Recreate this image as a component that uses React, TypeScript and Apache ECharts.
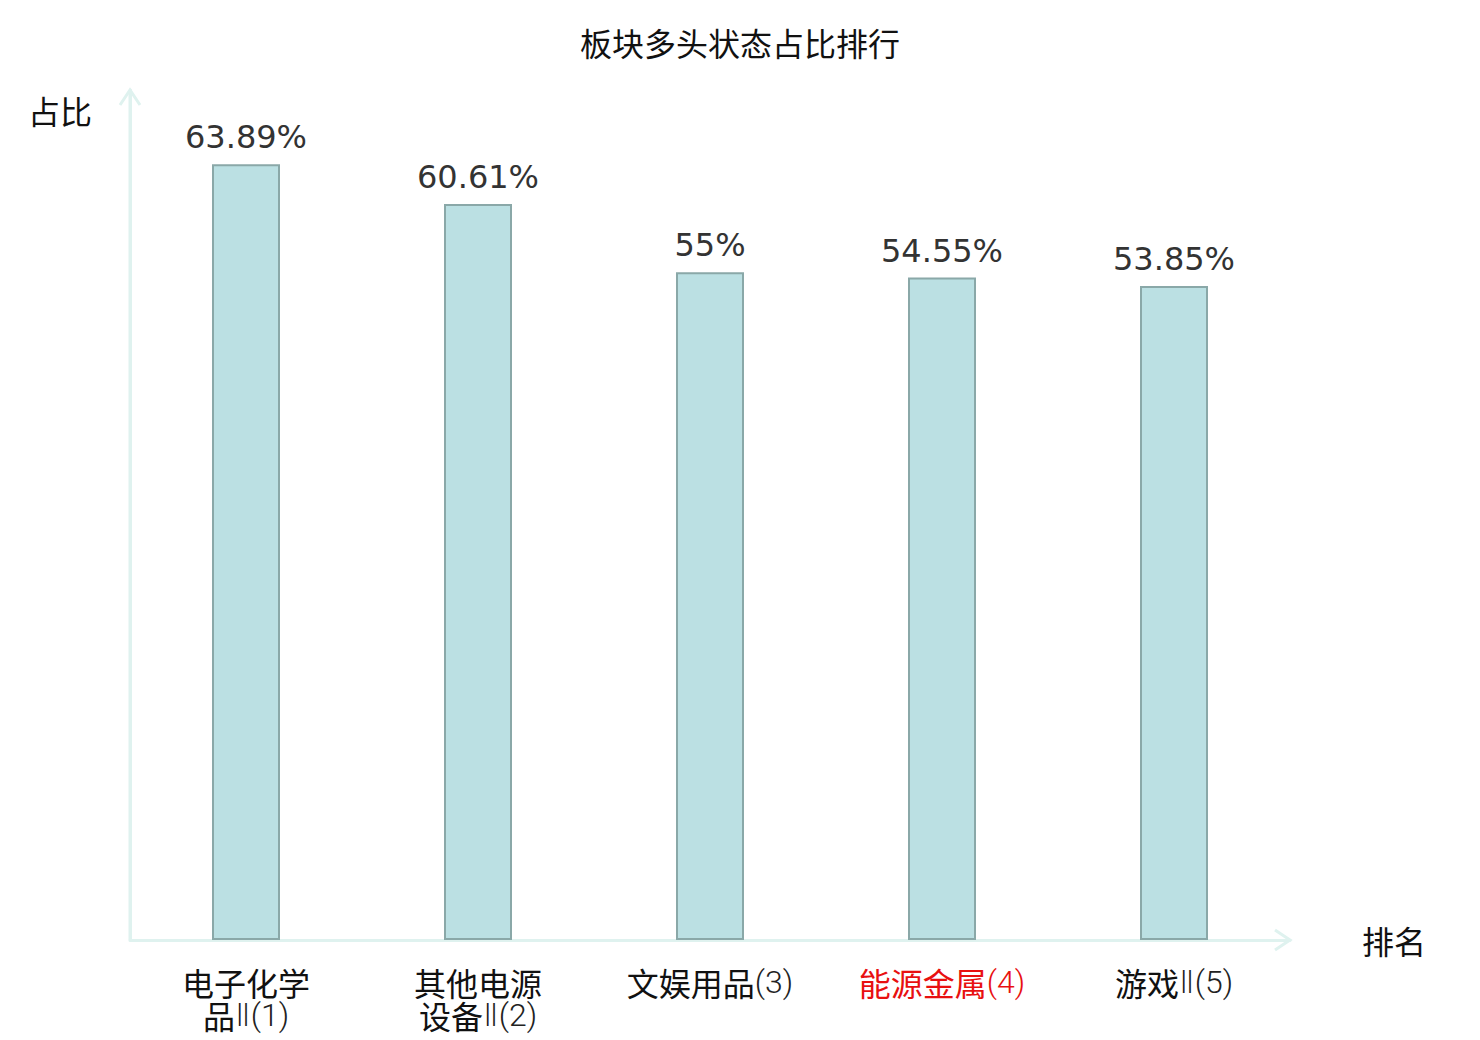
import React, { useEffect, useRef } from "react";
import * as echarts from "echarts";

const categories = ["电子化学品Ⅱ(1)", "其他电源设备Ⅱ(2)", "文娱用品(3)", "能源金属(4)", "游戏Ⅱ(5)"];
const values = [63.89, 60.61, 55, 54.55, 53.85];
const highlightIndex = 3;
const titleText = "板块多头状态占比排行";
const yName = "占比";
const xName = "排名";

const GRID = { left: 130, right: 190, top: 90, bottom: 100 };
const W = 1480;
const H = 1040;
const AXIS_COLOR = "#dff2ef";
const CJK = "Noto Sans CJK SC";
const LIGHT = "Roboto, DejaVu Sans, Noto Sans CJK SC";
const FS = 32;

function splitLabel(text: string, hl: boolean) {
  const c = hl ? "rc" : "c";
  const l = hl ? "rl" : "l";
  const fmt = (s: string) => {
    const m = s.match(/^([^Ⅱ(]*)(.*)$/);
    const a = m ? m[1] : s;
    const b = m ? m[2] : "";
    return (a ? `{${c}|${a}}` : "") + (b ? `{${l}|${b}}` : "");
  };
  if (text.length > 8) return fmt(text.slice(0, 4)) + "\n" + fmt(text.slice(4));
  return fmt(text);
}

export default function App() {
  const ref = useRef<HTMLDivElement>(null);
  useEffect(() => {
    document.body.style.margin = "0";
    const chart = echarts.init(ref.current!, null, { renderer: "svg" });
    const x0 = GRID.left;
    const y0 = H - GRID.bottom;
    const x1 = W - GRID.right;
    const yTop = GRID.top;
    const base = { fontSize: FS, lineHeight: 33 };
    chart.setOption({
      animation: false,
      backgroundColor: "#fff",
      title: {
        text: titleText,
        left: "center",
        top: 21,
        textStyle: { fontSize: FS, fontWeight: "normal", color: "#111", fontFamily: CJK },
      },
      grid: { ...GRID, containLabel: false },
      xAxis: {
        type: "category",
        data: categories,
        name: xName,
        nameGap: 72,
        nameTextStyle: { fontSize: FS, color: "#111", fontFamily: CJK },
        axisLine: { lineStyle: { color: AXIS_COLOR, width: 3 } },
        axisTick: { show: false },
        axisLabel: {
          interval: 0,
          margin: 25,
          fontSize: FS,
          lineHeight: 33,
          fontFamily: CJK,
          color: "#111",
          formatter: (v: string, i: number) => splitLabel(v, i === highlightIndex),
          rich: {
            c: { ...base, fontFamily: CJK, color: "#111" },
            l: { ...base, fontFamily: LIGHT, fontWeight: 300, color: "#222" },
            rc: { ...base, fontFamily: CJK, color: "#e81010" },
            rl: { ...base, fontFamily: LIGHT, fontWeight: 300, color: "#e81010" },
          },
        },
      },
      yAxis: {
        type: "value",
        min: 0,
        max: 70,
        name: yName,
        nameGap: -20,
        nameTextStyle: {
          fontSize: FS,
          color: "#111",
          fontFamily: CJK,
          align: "right",
          verticalAlign: "middle",
          padding: [0, 38, 0, 0],
        },
        axisLine: { show: true, lineStyle: { color: AXIS_COLOR, width: 3 } },
        axisTick: { show: false },
        axisLabel: { show: false },
        splitLine: { show: false },
      },
      series: [
        {
          type: "bar",
          data: values,
          barWidth: 68,
          itemStyle: { color: "#bbe0e3", borderColor: "#8aa8a8", borderWidth: 2 },
          label: {
            show: true,
            position: "top",
            distance: 11,
            fontSize: FS,
            color: "#333",
            fontFamily: "DejaVu Sans",
            formatter: (p: any) => p.value + "%",
          },
        },
      ],
      graphic: [
        {
          type: "polyline",
          shape: { points: [[x0 - 10, yTop + 15], [x0, yTop], [x0 + 10, yTop + 15]] },
          style: { stroke: AXIS_COLOR, lineWidth: 3, fill: "none" },
        },
        {
          type: "line",
          shape: { x1: x0, y1: yTop, x2: x0, y2: y0 },
          style: { stroke: AXIS_COLOR, lineWidth: 3 },
        },
        {
          type: "polyline",
          shape: { points: [[x1 - 15, y0 - 10], [x1, y0], [x1 - 15, y0 + 10]] },
          style: { stroke: AXIS_COLOR, lineWidth: 3, fill: "none" },
        },
      ],
    });
    return () => chart.dispose();
  }, []);
  return <div ref={ref} style={{ width: W, height: H }} />;
}
